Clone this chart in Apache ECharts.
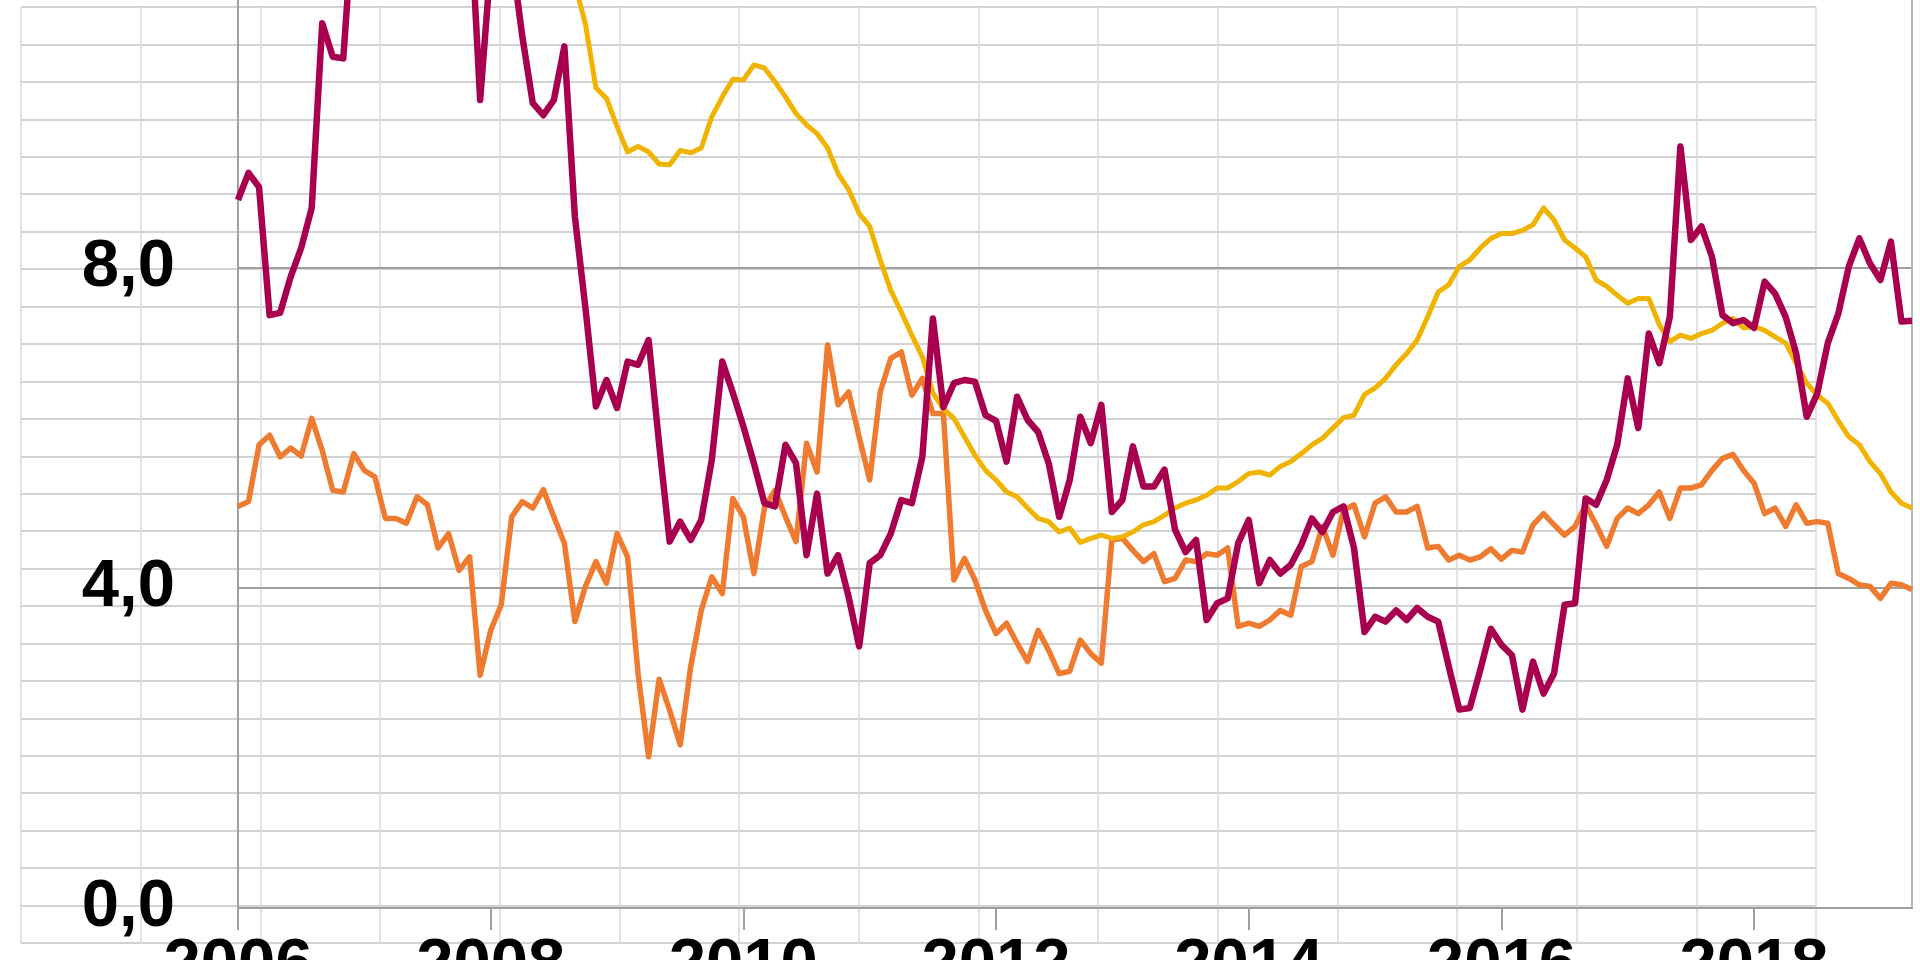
<!DOCTYPE html>
<html><head><meta charset="utf-8">
<script src="https://cdn.jsdelivr.net/npm/echarts@6/dist/echarts.min.js"></script>
<style>html,body{margin:0;padding:0;background:#fff}#c{width:1920px;height:960px}</style>
</head><body><div id="c"></div>
<script>
// Monthly categories Jan 2006 .. Apr 2019
const firstYear = 2006;
const monthCount = 160;
const months = [];
for (let i = 0; i < monthCount; i++) {
  months.push((firstYear + Math.floor(i / 12)) + '-' + String(i % 12 + 1).padStart(2, '0'));
}
const xTickLabels = ['2006', '2008', '2010', '2012', '2014', '2016', '2018'];
const yTickValues = [0, 4, 8];

// crimson series (values above the visible area that cannot be read are null)
const crimson = [
  8.85, 9.19, 9.01, 7.41, 7.44, 7.89, 8.25, 8.75, 11.06, 10.64, 10.62, 12.5,
  null, null, null, null, null, null, null, null, null, null, 12.6, 10.1,
  11.8, null, 11.9, 10.9, 10.06, 9.91, 10.1, 10.77, 8.64, 7.5, 6.27, 6.6,
  6.25, 6.83, 6.79, 7.1, 5.8, 4.58, 4.83, 4.6, 4.85, 5.6, 6.83, 6.44,
  6.02, 5.56, 5.06, 5.02, 5.79, 5.56, 4.41, 5.18, 4.18, 4.41, 3.89, 3.27,
  4.31, 4.41, 4.68, 5.1, 5.06, 5.64, 7.37, 6.26, 6.56, 6.6, 6.58, 6.16,
  6.09, 5.58, 6.39, 6.1, 5.95, 5.56, 4.89, 5.35, 6.14, 5.81, 6.29, 4.95,
  5.1, 5.77, 5.27, 5.27, 5.48, 4.73, 4.45, 4.6, 3.6, 3.81, 3.87, 4.56,
  4.85, 4.06, 4.35, 4.18, 4.29, 4.54, 4.87, 4.7, 4.95, 5.02, 4.5, 3.45,
  3.64, 3.58, 3.72, 3.6, 3.75, 3.64, 3.58, 3.02, 2.48, 2.5, 2.98, 3.49,
  3.29, 3.16, 2.48, 3.08, 2.68, 2.93, 3.79, 3.81, 5.12, 5.04, 5.35, 5.79,
  6.62, 6.0, 7.18, 6.81, 7.39, 9.52, 8.35, 8.52, 8.14, 7.41, 7.31, 7.35,
  7.25, 7.83, 7.68, 7.39, 6.93, 6.14, 6.43, 7.06, 7.43, 8.02, 8.37, 8.06,
  7.85, 8.33, 7.33, 7.34
];

const yellow = [
  null, null, null, null, null, null, null, null, null, null, null, null,
  null, null, null, null, null, null, null, null, null, null, null, null,
  null, null, null, null, null, null, null, null, 11.55, 11.05, 10.25, 10.12,
  9.77, 9.45, 9.52, 9.45, 9.3, 9.29, 9.47, 9.44, 9.5, 9.89, 10.14, 10.36,
  10.35, 10.54, 10.5, 10.33, 10.14, 9.93, 9.79, 9.68, 9.5, 9.18, 8.98, 8.68,
  8.52, 8.1, 7.72, 7.45, 7.16, 6.89, 6.44, 6.24, 6.12, 5.89, 5.66, 5.47,
  5.35, 5.2, 5.14, 5.0, 4.87, 4.83, 4.7, 4.75, 4.57, 4.62, 4.66, 4.62,
  4.64, 4.7, 4.79, 4.83, 4.91, 5.0, 5.06, 5.1, 5.16, 5.25, 5.25, 5.33,
  5.43, 5.45, 5.41, 5.52, 5.58, 5.68, 5.79, 5.87, 6.0, 6.13, 6.16, 6.42,
  6.5, 6.62, 6.79, 6.93, 7.1, 7.39, 7.7, 7.79, 8.02, 8.1, 8.25, 8.37,
  8.43, 8.43, 8.47, 8.54, 8.75, 8.6, 8.35, 8.25, 8.14, 7.85, 7.77, 7.66,
  7.56, 7.62, 7.62, 7.29, 7.08, 7.16, 7.12, 7.18, 7.22, 7.31, 7.37, 7.25,
  7.27, 7.22, 7.14, 7.06, 6.81, 6.56, 6.41, 6.31, 6.09, 5.89, 5.79, 5.58,
  5.43, 5.2, 5.06, 5.0
];

const orange = [
  5.02, 5.08, 5.79, 5.91, 5.64, 5.75, 5.65, 6.12, 5.72, 5.22, 5.2, 5.68,
  5.47, 5.39, 4.87, 4.87, 4.81, 5.14, 5.04, 4.5, 4.68, 4.22, 4.39, 2.91,
  3.47, 3.79, 4.89, 5.08, 5.0, 5.23, 4.89, 4.56, 3.58, 4.02, 4.33, 4.06,
  4.68, 4.39, 2.93, 1.89, 2.86, 2.47, 2.04, 3.02, 3.72, 4.14, 3.93, 5.12,
  4.89, 4.18, 5.0, 5.22, 4.89, 4.58, 5.81, 5.45, 7.04, 6.29, 6.45, 5.89,
  5.35, 6.45, 6.87, 6.95, 6.41, 6.62, 6.18, 6.18, 4.1, 4.37, 4.1, 3.72,
  3.43, 3.56, 3.31, 3.08, 3.47, 3.22, 2.93, 2.96, 3.35, 3.18, 3.06, 4.6,
  4.62, 4.47, 4.33, 4.43, 4.08, 4.12, 4.35, 4.33, 4.43, 4.41, 4.5, 3.52,
  3.56, 3.52, 3.6, 3.72, 3.66, 4.27, 4.33, 4.77, 4.41, 4.97, 5.04, 4.64,
  5.06, 5.14, 4.95, 4.95, 5.02, 4.5, 4.52, 4.35, 4.41, 4.35, 4.39, 4.49,
  4.36, 4.47, 4.45, 4.79, 4.93, 4.79, 4.66, 4.77, 5.04, 4.79, 4.52, 4.87,
  5.0, 4.93, 5.04, 5.2, 4.87, 5.25, 5.25, 5.29, 5.47, 5.62, 5.67, 5.47,
  5.31, 4.93, 5.0, 4.77, 5.04, 4.81, 4.83, 4.81, 4.18, 4.12, 4.04, 4.02,
  3.87, 4.06, 4.04, 3.98
];

const chart = echarts.init(document.getElementById('c'), null, {renderer: 'canvas'});
const labelFont = {fontFamily: '"Liberation Sans", Arial, sans-serif', fontWeight: 'bold', fontSize: 67, color: '#000'};
const isMajorMonth = (i, v) => xTickLabels.indexOf(v.slice(0, 4)) >= 0 && v.slice(5) === '01';

chart.setOption({
  animation: false,
  backgroundColor: '#ffffff',
  grid: [
    {left: 238, right: 8, top: -372, bottom: 52, containLabel: false, outerBoundsMode: 'none', z: 2},
    {left: 21, right: 104, top: 7, bottom: 17, containLabel: false, outerBoundsMode: 'none', z: 0}
  ],
  xAxis: [
    {
      type: 'category', gridIndex: 0, data: months, boundaryGap: false, z: 2,
      axisLine: {show: true, lineStyle: {color: '#a0a0a0', width: 2}},
      axisTick: {show: true, length: 22, interval: isMajorMonth, lineStyle: {color: '#a0a0a0', width: 2}},
      axisLabel: Object.assign({interval: isMajorMonth, formatter: v => v.slice(0, 4), margin: 25}, labelFont),
      splitLine: {show: false}
    },
    {
      type: 'value', gridIndex: 1, min: 0, max: 15, interval: 1, z: 0,
      axisLine: {show: false}, axisTick: {show: false}, axisLabel: {show: false},
      splitLine: {show: true, lineStyle: {color: '#d8d8d8', width: 1.5}}
    }
  ],
  yAxis: [
    {
      type: 'value', gridIndex: 0, min: 0, max: 16, interval: 4, z: 2,
      axisLine: {show: true, lineStyle: {color: '#a0a0a0', width: 2}},
      axisTick: {show: false},
      axisLabel: Object.assign({
        formatter: v => yTickValues.indexOf(v) >= 0 ? v.toFixed(1).replace('.', ',') : '',
        margin: 63
      }, labelFont),
      splitLine: {show: true, lineStyle: {color: '#a0a0a0', width: 2}}
    },
    {
      type: 'value', gridIndex: 0, min: 0, max: 16, interval: 4, position: 'right', z: 2,
      axisLine: {show: true, lineStyle: {color: '#b8b8b8', width: 2}},
      axisTick: {show: false}, axisLabel: {show: false}, splitLine: {show: false}
    },
    {
      type: 'value', gridIndex: 1, min: 0, max: 25, interval: 1, z: 0,
      axisLine: {show: false}, axisTick: {show: false}, axisLabel: {show: false},
      splitLine: {show: true, lineStyle: {color: '#d2d2d2', width: 2}}
    }
  ],
  series: [
    {name: 'orange', type: 'line', xAxisIndex: 0, yAxisIndex: 0, data: orange, showSymbol: false, symbol: 'none', z: 3,
      lineStyle: {color: '#EE7B30', width: 5.5, join: 'round'}, itemStyle: {color: '#EE7B30'}},
    {name: 'yellow', type: 'line', xAxisIndex: 0, yAxisIndex: 0, data: yellow, showSymbol: false, symbol: 'none', z: 4,
      lineStyle: {color: '#F0B400', width: 5, join: 'round'}, itemStyle: {color: '#F0B400'}},
    {name: 'crimson', type: 'line', xAxisIndex: 0, yAxisIndex: 0, data: crimson, showSymbol: false, symbol: 'none', z: 5,
      lineStyle: {color: '#A8004F', width: 6.5, join: 'round'}, itemStyle: {color: '#A8004F'}}
  ]
});
</script>
</body></html>
